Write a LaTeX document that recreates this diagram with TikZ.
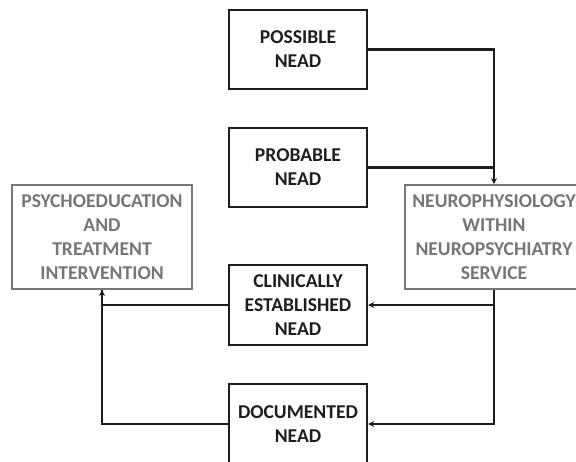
\documentclass[tikz,border=0pt]{standalone}
\usepackage{fontspec}
\setmainfont{Carlito}
\usetikzlibrary{arrows.meta}
\definecolor{ink}{HTML}{1E1E1E}
\definecolor{graytxt}{HTML}{767676}
\begin{document}
\begin{tikzpicture}[x=1pt,y=-1pt,
  box/.style={draw=ink, line width=2.4pt, fill=white, align=center, text=ink,
    font=\fontsize{19.6}{24}\selectfont\bfseries, inner sep=0pt},
  gbox/.style={draw=graytxt, line width=1.8pt, fill=white, align=center, text=graytxt,
    font=\fontsize{19.6}{24}\selectfont\bfseries, inner sep=0pt},
  conn/.style={draw=ink, line width=2.4pt},
  arr/.style={conn, -{Stealth[length=6pt,width=6pt]}}]
\useasboundingbox (0,0) rectangle (576,462);
\clip (0,0) rectangle (576,462);
\fill[white] (0,0) rectangle (576,462);
\node[box, minimum width=138pt, minimum height=79pt] (possible) at (298,49.5) {POSSIBLE\\NEAD};
\node[box, minimum width=138pt, minimum height=79pt] (probable) at (298,167.5) {PROBABLE\\NEAD};
\node[gbox, minimum width=180pt, minimum height=104pt] (psycho) at (102,237) {PSYCHOEDUCATION\\AND\\TREATMENT\\INTERVENTION};
\node[gbox, minimum width=178pt, minimum height=104pt] (neuro) at (494,237) {NEUROPHYSIOLOGY\\WITHIN\\NEUROPSYCHIATRY\\SERVICE};
\node[box, minimum width=138pt, minimum height=80pt] (clinical) at (298,305) {CLINICALLY\\ESTABLISHED\\NEAD};
\node[box, minimum width=138pt, minimum height=80pt] (documented) at (298,424) {DOCUMENTED\\NEAD};
\draw[arr] (possible.east) -| (neuro.north);
\draw[conn] (probable.east) -- (probable.east -| neuro.north);
\draw[arr] (neuro.south) |- (documented.east);
\draw[arr] (neuro.south |- clinical.east) -- (clinical.east);
\draw[arr] (clinical.west) -| (psycho.south);
\draw[conn] (documented.west) -| (psycho.south);
\end{tikzpicture}
\end{document}
